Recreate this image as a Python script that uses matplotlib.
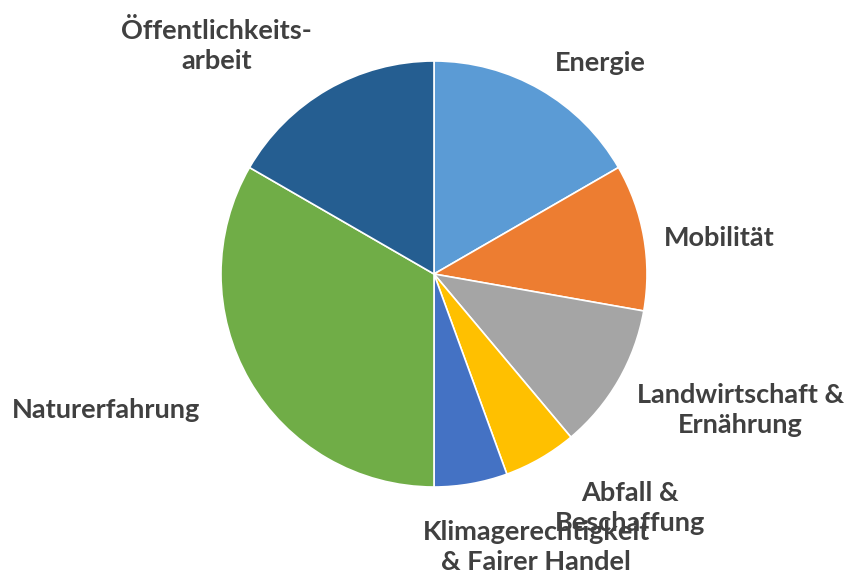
import numpy as np
import matplotlib.pyplot as plt

# Anteile (in Achtzehnteln geschätzt)
labels = ['Energie', 'Mobilität', 'Landwirtschaft &\nErnährung', 'Abfall &\nBeschaffung',
          'Klimagerechtigkeit\n& Fairer Handel', 'Naturerfahrung', 'Öffentlichkeits-\narbeit']
values = [3, 2, 2, 1, 1, 6, 3]
colors = ['#5B9BD5', '#ED7D31', '#A5A5A5', '#FFC000', '#4472C4', '#70AD47', '#255E91']

# Label-Position relativ zum Radius (x, y)
label_pos = [(0.78, 0.99), (1.34, 0.17), (1.44, -0.64), (0.92, -1.10),
             (0.48, -1.28), (-1.54, -0.64), (-1.02, 1.075)]

W, H = 849, 580
cx, cy, r = 434, 274, 213

fig = plt.figure(figsize=(W / 100, H / 100), dpi=100)
ax = fig.add_axes([0, 0, 1, 1])

wedges, _ = ax.pie(values, colors=colors, startangle=90, counterclock=False,
                   radius=1, wedgeprops=dict(linewidth=1.2, edgecolor='white'))

for lab, (x, y) in zip(labels, label_pos):
    ax.text(x, y, lab, ha='center', va='center', fontsize=19.5, fontweight='bold',
            color='#404040', family=['Lato', 'DejaVu Sans'], linespacing=1.3)

ax.set_xlim(-cx / r, (W - cx) / r)
ax.set_ylim(-(H - cy) / r, cy / r)
ax.set_aspect('auto')
ax.axis('off')

fig.savefig('out.png', dpi=100)
